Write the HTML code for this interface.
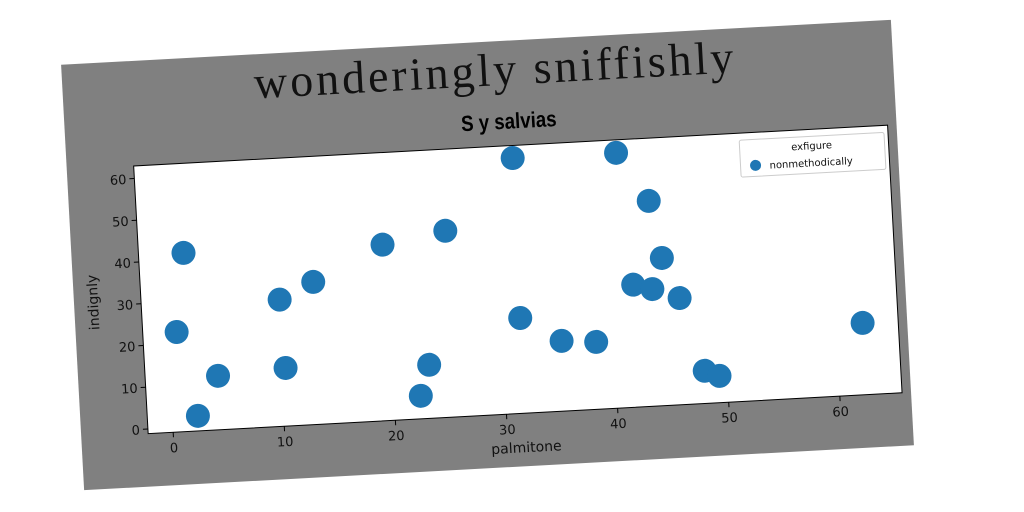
<!DOCTYPE html>
<html><head><meta charset="utf-8"><style>
html,body{margin:0;padding:0;background:#fff;width:1024px;height:512px;overflow:hidden}
#panel{position:absolute;left:72px;top:42px;width:831px;height:426px;background:#808080;transform:rotate(-3.1deg);transform-origin:415.5px 213px}
svg text{font-family:"DejaVu Sans","Liberation Sans",sans-serif}
</style></head><body>
<div id="panel">
<svg width="831" height="426" id="chart">
<text x="433" y="44" text-anchor="middle" style="font-family:'Liberation Serif',serif;font-size:46px;letter-spacing:3px" fill="#111">wonderingly sniffishly</text>
<text x="444" y="88" text-anchor="middle" style="font-family:'Liberation Sans',sans-serif;font-size:22px;font-weight:bold" transform="translate(444,0) scale(0.85,1) translate(-444,0)" fill="#000">S y salvias</text>
<rect x="67" y="105" width="755" height="268" fill="#fff" stroke="#000" stroke-width="1"/>
<g id="ticks"></g>
<g id="dots"></g>
<text x="444" y="412" text-anchor="middle" font-size="14" fill="#111">palmitone</text>
<text x="0" y="0" text-anchor="middle" font-size="14" fill="#111" transform="translate(24,239) rotate(-90)">indignly</text>
<g>
<rect x="673" y="112" width="145" height="37" fill="#fff" stroke="#ccc" rx="2"/>
<text x="745" y="125" text-anchor="middle" font-size="10" fill="#111">exfigure</text>
<circle cx="688" cy="138" r="5.5" fill="#1f77b4"/>
<text x="702" y="142" font-size="10" fill="#111">nonmethodically</text>
</g>
</svg></div>
<script>
const xs=[0.8,1.8,2.3,4.3,10.2,10.4,13.3,19.7,22.4,23.3,25.4,31.8,31.7,35.3,38.4,41.1,42,43.8,43.7,44.7,46.1,48,49.3,62.4];
const ys=[22.8,41.6,2.5,11.8,29.2,12.8,33,41,4.4,11.7,43.5,60,21.7,15.7,15,59.9,28.2,48,26.9,34.2,24.4,6.7,5.3,16.1];
const xTicks=[0,10,20,30,40,50,60];
const yTicks=[0,10,20,30,40,50,60];
const PL=67,PT=105,PW=755,PH=268,XMIN=-2.25,XMAX=65.6,YMIN=-1.1,YMAX=63;
const sx=v=>PL+(v-XMIN)/(XMAX-XMIN)*PW;
const sy=v=>PT+PH-(v-YMIN)/(YMAX-YMIN)*PH;
const NS="http://www.w3.org/2000/svg";
const tg=document.getElementById('ticks'),dg=document.getElementById('dots');
xTicks.forEach(t=>{
 const l=document.createElementNS(NS,'line');
 l.setAttribute('x1',sx(t));l.setAttribute('x2',sx(t));l.setAttribute('y1',PT+PH);l.setAttribute('y2',PT+PH+5);l.setAttribute('stroke','#000');
 
 
 tg.appendChild(l);
 const tx=document.createElementNS(NS,'text');
 tx.setAttribute('x',sx(t));tx.setAttribute('y',PT+PH+20);tx.setAttribute('text-anchor','middle');tx.setAttribute('font-size','13');tx.setAttribute('fill','#111');tx.textContent=t;
 
 
 tg.appendChild(tx);
});
yTicks.forEach(t=>{
 const l=document.createElementNS(NS,'line');
 l.setAttribute('x1',PL-5);l.setAttribute('x2',PL);l.setAttribute('y1',sy(t));l.setAttribute('y2',sy(t));l.setAttribute('stroke','#000');
 
 
 tg.appendChild(l);
 const tx=document.createElementNS(NS,'text');
 tx.setAttribute('x',PL-8);tx.setAttribute('y',sy(t)+5);tx.setAttribute('text-anchor','end');tx.setAttribute('font-size','13');tx.setAttribute('fill','#111');tx.textContent=t;
 
 
 tg.appendChild(tx);
});
xs.forEach((x,i)=>{
 const c=document.createElementNS(NS,'circle');
 c.setAttribute('cx',sx(x));c.setAttribute('cy',sy(ys[i]));c.setAttribute('r','12');c.setAttribute('fill','#1f77b4');
 
 
 dg.appendChild(c);
});
</script>
</body></html>
